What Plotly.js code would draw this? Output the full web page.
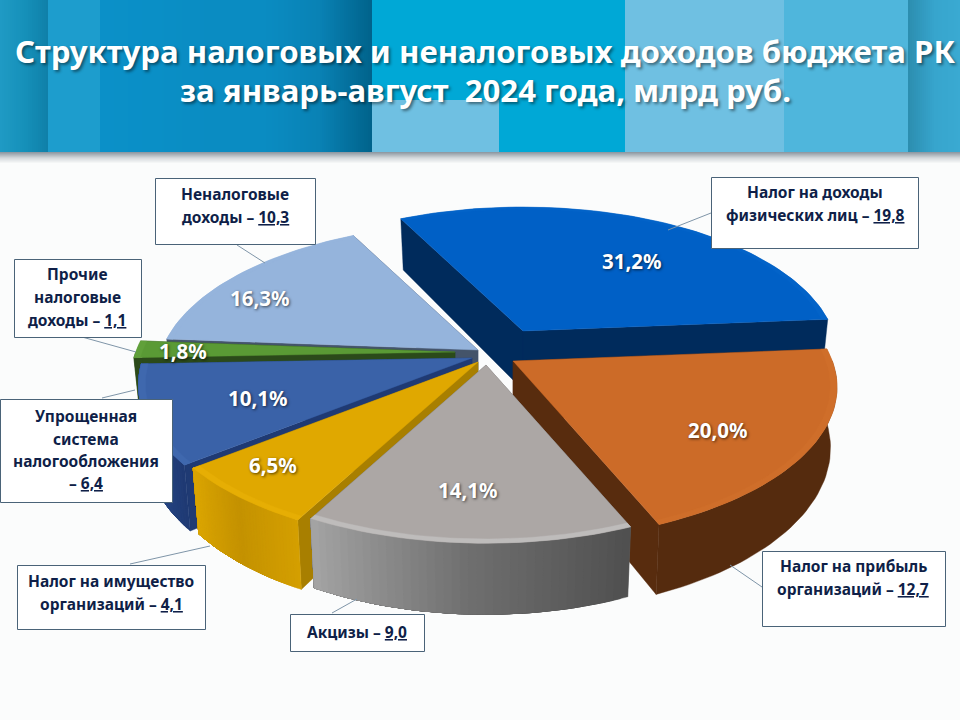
<!DOCTYPE html>
<html><head><meta charset="utf-8">
<script src="https://cdn.plot.ly/plotly-3.0.1.min.js"></script>
<style>html,body{margin:0;padding:0;background:#fbfcfc}#c{width:960px;height:720px}</style>
</head><body><div id="c"></div>
<script>
// ---- data ----
const categories = ['Налог на доходы физических лиц','Налог на прибыль организаций','Акцизы','Налог на имущество организаций','Упрощенная система налогообложения','Прочие налоговые доходы','Неналоговые доходы'];
const shares = [31.2,20.0,14.1,6.5,10.1,1.8,16.3];
const amounts = [19.8,12.7,9.0,4.1,6.4,1.1,10.3];
const titleLines = ['Структура налоговых и неналоговых доходов бюджета РК','за январь-август  2024 года, млрд руб.'];

// ---- styling / layout configuration ----
const topColors = ['#0060c6','#cc6b28','#aca7a5','#e0a800','#3a62a8','#5a9a35','#95b4dc'];
const bevelColors = ['#0363c8','#cf6e2a','#bebcbb','#e6ae04','#3f68ae','#60a03a','#95b4dc'];
const sideColors = ['#002b5c','#582c0e','#6a6a6a','#a87f00','#1f3a73','#2b4a1a','#44546a'];
const wallStops = [['#002b5c'],['#552b0e'],['#4f4f4f','#6f6f6f','#a4a4a4'],['#d49f00','#c49200','#dba500'],['#1f3a73','#3560ac'],['#2b4a1a'],['#44546a']];
const apexX = [523,513,486,478,472,455,478];
const apexY = [331,361,365,362,358,352,350];
const radius = [1,1.03,1.02,1.05,1.06,1.03,1.02];
const drawOrder = [0,6,5,4,3,1,2];
const startAngle = -27, RX = 310, RY = 145, PERSP = 0.17, DEPTH = 59;
const pctX = [632,718,468,273,258,183,260];
const pctY = [261,430,490,465,398,351,298];
const boxes = [[711,177,918,248],[762,551,945,626],[290,614,424,651],[17,565,205,629],[0,399,172,502],[14,259,141,337],[155,178,315,244]];
const leaders = [[711,213,668,230],[762,587,730,565],[332,613,357,599],[130,564,210,546],[102,398,135,390],[82,337,136,352],[237,245,265,263]];
const labelLines = [
 [['Налог на доходы',815,192],['физических лиц – <u>19,8</u>',815,215]],
 [['Налог на прибыль',853,566],['организаций – <u>12,7</u>',853,589]],
 [['Акцизы – <u>9,0</u>',357,632]],
 [['Налог на имущество',111,581],['организаций – <u>4,1</u>',111,604]],
 [['Упрощенная',86,416],['система',86,439],['налогообложения',86,461],['– <u>6,4</u>',86,483]],
 [['Прочие',77,274],['налоговые',77,297],['доходы – <u>1,1</u>',77,320]],
 [['Неналоговые',235,194],['доходы – <u>10,3</u>',235,217]]
];

// ---- helpers ----
function proj(i,th,rho,z){
  const a=th*Math.PI/180, X=rho*Math.sin(a), Y=-rho*Math.cos(a), s=1/(1-PERSP*Y), R=radius[i];
  const sh=z?0.98:1;
  return [apexX[i]+RX*R*X*s*sh, apexY[i]+RY*R*Y*s+z*DEPTH*s];
}
function hex(c){return [1,3,5].map(k=>parseInt(c.substr(k,2),16));}
function mix(stops,t){
  if(stops.length===1) return stops[0];
  const p=t*(stops.length-1), k=Math.min(Math.floor(p),stops.length-2), f=p-k;
  const a=hex(stops[k]), b=hex(stops[k+1]);
  return 'rgb('+a.map((v,n)=>Math.round(v+(b[n]-v)*f)).join(',')+')';
}
function poly(pts,color){
  return {type:'scatter',mode:'lines',x:pts.map(p=>p[0]).concat(pts[0][0]),y:pts.map(p=>p[1]).concat(pts[0][1]),
    fill:'toself',fillcolor:color,line:{color:color,width:0.4},hoverinfo:'skip',showlegend:false};
}
function arc(i,a,b,rho,z){
  const n=Math.max(2,Math.ceil(Math.abs(b-a)/1.5)),o=[];
  for(let k=0;k<=n;k++) o.push(proj(i,a+(b-a)*k/n,rho,z));
  return o;
}

// ---- slices ----
const total = shares.reduce((a,b)=>a+b,0);
const starts=[]; let acc=startAngle;
shares.forEach(v=>{starts.push(acc); acc+=v/total*360;});
const traces=[];
drawOrder.forEach(i=>{
  const a=starts[i], b=a+shares[i]/total*360;
  [a,b].forEach(t=>{
    traces.push(poly([proj(i,t,0,0),proj(i,t,1,0),proj(i,t,1,1),proj(i,t,0,1)],sideColors[i]));
  });
  const w0=Math.max(a,90), w1=Math.min(b,270);
  if(w1>w0){
    const segs=wallStops[i].length===1?1:40;
    for(let k=0;k<segs;k++){
      const p=w0+(w1-w0)*k/segs;
      traces.push(poly(arc(i,p,w1,1,0).concat(arc(i,w1,p,1,1)),mix(wallStops[i],(k+0.5)/segs)));
    }
  }
  traces.push(poly([proj(i,a,0,0)].concat(arc(i,a,b,1,0)),topColors[i]));
  traces.push(poly(arc(i,a,b,1,0).concat(arc(i,b,a,0.98,0)),bevelColors[i]));
});

// ---- header ----
const shapes=[];
function rect(x0,y0,x1,y1,color,layer){shapes.push({type:'rect',xref:'x',yref:'y',x0,y0,x1,y1,fillcolor:color,line:{width:0},layer:layer||'below'});}
function gradX(x0,x1,y0,y1,stops){for(let x=x0;x<x1;x+=2){rect(x,y0,Math.min(x+2,x1),y1,mix(stops,(x-x0)/(x1-x0)));}}
rect(0,0,960,720,'#fbfcfc');
for(let k=0;k<12;k++){rect(0,152+k,960,153+k,mix(['#8f9aa3','#d4d9dc','#fbfcfc'],k/11));}
gradX(0,48,0,152,['#1f9ac4','#1590b9','#0f7fa8']);
gradX(48,100,0,152,['#1d9dcd','#1d9dcd']);
gradX(100,372,0,152,['#0b90c8','#0a8fc6','#0a8cc2','#0a8cc2','#0982b5','#00628a']);
rect(372,0,625,152,'#00a8d6');
rect(372,100,499,152,'#6fc0e2');
rect(625,0,784,152,'#6fc0e2');
rect(784,0,908,152,'#4fb6dc');
gradX(908,960,0,152,['#2c8eb0','#37a5cd','#3aaad2']);

// ---- boxes, leaders, texts ----
leaders.forEach(l=>shapes.push({type:'line',xref:'x',yref:'y',x0:l[0],y0:l[1],x1:l[2],y1:l[3],line:{color:'#7f95a8',width:1},layer:'above'}));
boxes.forEach(b=>shapes.push({type:'rect',xref:'x',yref:'y',x0:b[0]+.5,y0:b[1]+.5,x1:b[2]+.5,y1:b[3]+.5,fillcolor:'#ffffff',line:{color:'#4a6378',width:1},layer:'above'}));

const annotations=[];
function note(text,x,y,font){annotations.push({xref:'x',yref:'y',x,y,text,showarrow:false,xanchor:'center',yanchor:'middle',font});}
const FF='"Noto Sans", sans-serif';
titleLines.forEach((t,i)=>note('<b>'+t+'</b>',485,[51,90][i],{family:FF,size:31.2,color:'#ffffff',shadow:'2px 2px 3px rgba(0,0,0,.45)'}));
labelLines.forEach(ls=>ls.forEach(l=>note('<b>'+l[0]+'</b>',l[1],l[2],{family:FF,size:15.5,color:'#0f1f48'})));
shares.forEach((v,i)=>note('<b>'+v.toFixed(1).replace('.',',')+'%</b>',pctX[i],pctY[i],{family:FF,size:20.5,color:'#ffffff',shadow:'1px 1px 3px rgba(0,0,0,.65)'}));

Plotly.newPlot('c',traces,{
  width:960,height:720,margin:{l:0,r:0,t:0,b:0},paper_bgcolor:'#fbfcfc',plot_bgcolor:'#fbfcfc',showlegend:false,
  xaxis:{range:[0,960],visible:false,fixedrange:true},
  yaxis:{range:[720,0],visible:false,fixedrange:true},
  shapes,annotations,hovermode:false
},{displayModeBar:false,staticPlot:true});
</script></body></html>
